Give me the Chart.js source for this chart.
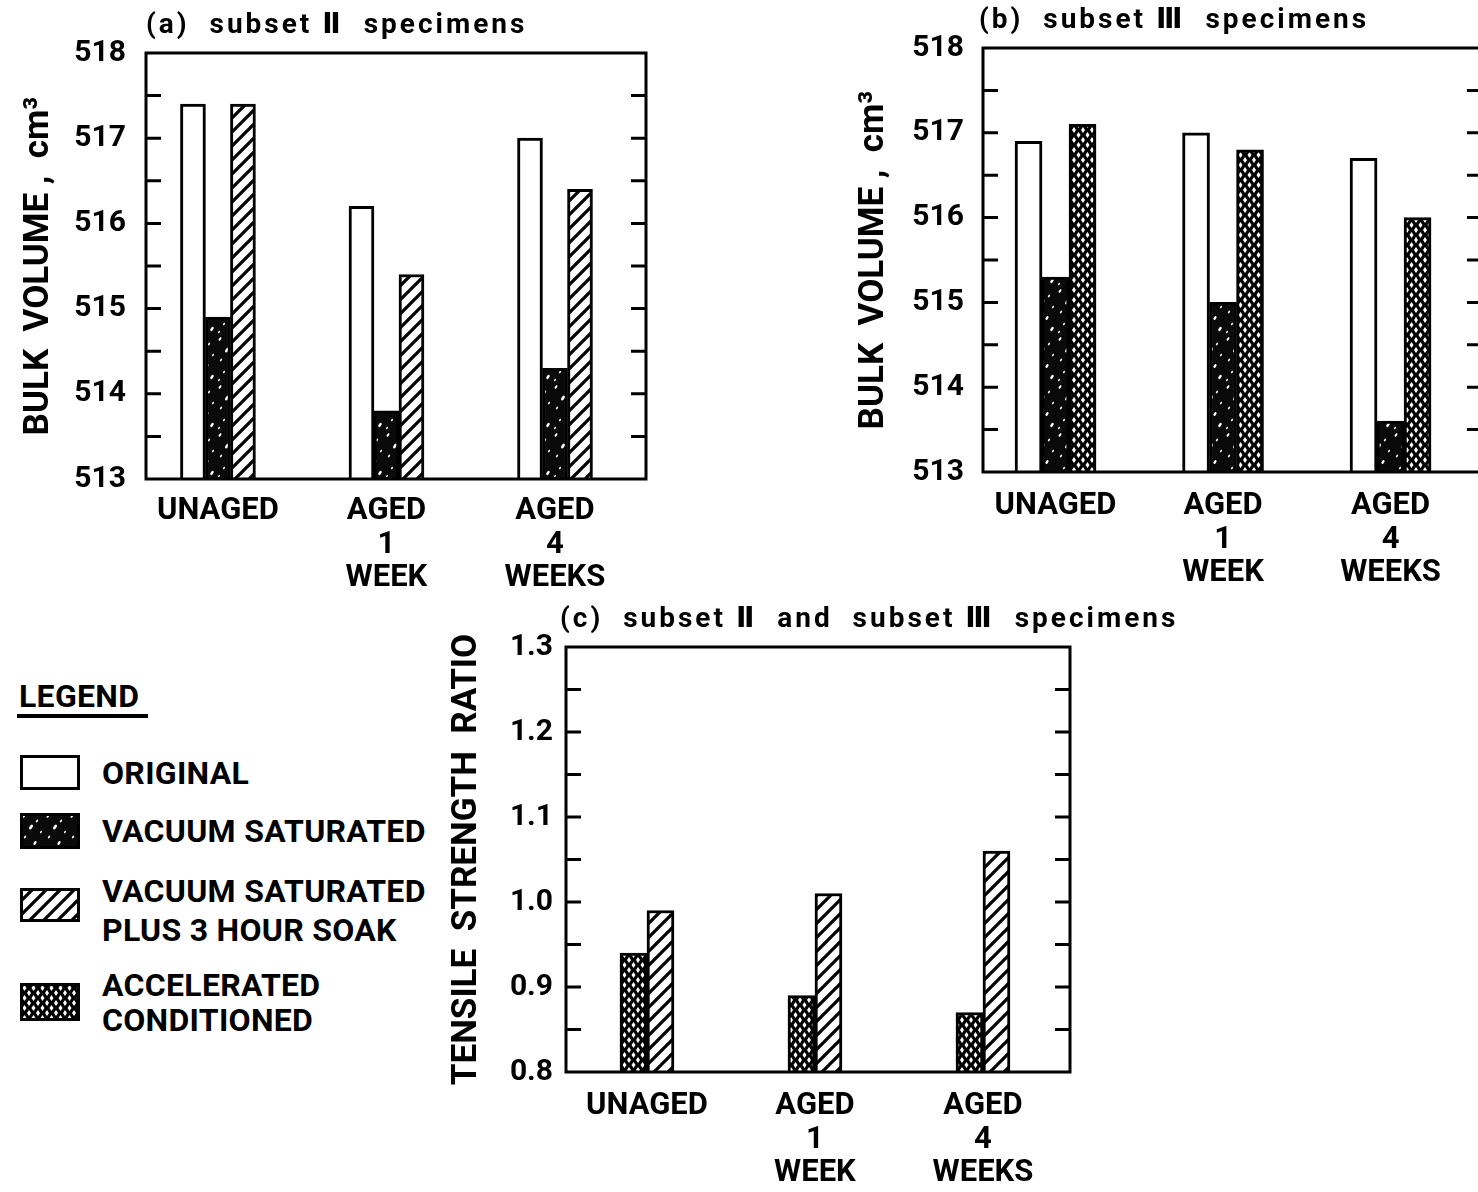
<!DOCTYPE html>
<html>
<head>
<meta charset="utf-8">
<script src="https://cdn.jsdelivr.net/npm/chart.js@4.4.1/dist/chart.umd.min.js"></script>
<style>
  html, body { margin: 0; padding: 0; background: #fff; }
  body { width: 1478px; height: 1192px; overflow: hidden; position: relative; font-family: Roboto, "DejaVu Sans", sans-serif; font-weight: 700; color: #000; }
  canvas.panel, canvas.swatch { position: absolute; }
  .lg { position: absolute; font-size: 32px; line-height: 36px; white-space: nowrap; letter-spacing: 0.3px; }
  .rule { position: absolute; background: #000; }
</style>
</head>
<body>
<canvas id="chartA" class="panel" width="660" height="600" style="left:0;top:0"></canvas>
<canvas id="chartB" class="panel" width="660" height="600" style="left:840px;top:0"></canvas>
<canvas id="chartC" class="panel" width="780" height="592" style="left:440px;top:600px"></canvas>

<!-- legend -->
<div class="lg" style="left:19px;top:678px">LEGEND</div>
<div class="rule" style="left:17px;top:714px;width:131px;height:4px"></div>
<canvas id="swOriginal" class="swatch" width="60" height="35" style="left:20px;top:755px"></canvas>
<div class="lg" style="left:102px;top:755px">ORIGINAL</div>
<canvas id="swVacuum" class="swatch" width="60" height="36" style="left:20px;top:813px"></canvas>
<div class="lg" style="left:102px;top:813px">VACUUM SATURATED</div>
<canvas id="swSoak" class="swatch" width="60" height="34" style="left:20px;top:888px"></canvas>
<div class="lg" style="left:102px;top:872px;line-height:39px">VACUUM SATURATED<br>PLUS 3 HOUR SOAK</div>
<canvas id="swAccel" class="swatch" width="60" height="38" style="left:20px;top:983px"></canvas>
<div class="lg" style="left:102px;top:968px;line-height:35px">ACCELERATED<br>CONDITIONED</div>

<script>
// x categories (same for all three panels)
const categoryLabels = [["UNAGED"], ["AGED", "1", "WEEK"], ["AGED", "4", "WEEKS"]];
const categoryIndex = [0, 1, 2];

// (a) subset II, bulk volume cm3
const aOriginal = [517.4, 516.2, 517.0];
const aVacuumSaturated = [514.9, 513.8, 514.3];
const aSoaked = [517.4, 515.4, 516.4];

// (b) subset III, bulk volume cm3
const bOriginal = [516.9, 517.0, 516.7];
const bVacuumSaturated = [515.3, 515.0, 513.6];
const bAccelerated = [517.1, 516.8, 516.0];

// (c) subset II and III, tensile strength ratio
const cAccelerated = [0.94, 0.89, 0.87];
const cSoaked = [0.99, 1.01, 1.06];

// y tick labels
const volumeTickLabels = [513, 514, 515, 516, 517, 518];
const ratioTickLabels = [0.8, 0.9, 1.0, 1.1, 1.2, 1.3];

const FONT = "Roboto, 'DejaVu Sans', sans-serif";

// ---- fill patterns ----
function tilePattern(w, h, draw) {
  const c = document.createElement("canvas");
  c.width = w;
  c.height = h;
  draw(c.getContext("2d"), w, h);
  return c.getContext("2d").createPattern(c, "repeat");
}

const hatchFill = tilePattern(14, 14, (g, w, h) => {
  g.fillStyle = "#fff";
  g.fillRect(0, 0, w, h);
  g.strokeStyle = "#000";
  g.lineWidth = 3.2;
  g.beginPath();
  g.moveTo(-2, h + 2); g.lineTo(w + 2, -2);
  g.moveTo(-3, 3); g.lineTo(3, -3);
  g.moveTo(w - 3, h + 3); g.lineTo(w + 3, h - 3);
  g.stroke();
});

const crossFill = tilePattern(9, 10, (g, w, h) => {
  g.fillStyle = "#000";
  g.fillRect(0, 0, w, h);
  g.fillStyle = "#fff";
  const diamond = (cx, cy) => {
    g.beginPath();
    g.moveTo(cx, cy - 3); g.lineTo(cx + 2, cy); g.lineTo(cx, cy + 3); g.lineTo(cx - 2, cy);
    g.closePath();
    g.fill();
  };
  diamond(w / 2, h / 2);
  diamond(0, 0); diamond(w, 0); diamond(0, h); diamond(w, h);
});

// white specks on black, fixed positions
const specks = [
  [4, 3, 1.1], [17, 8, 0.9], [11, 14, 1.5], [21, 19, 0.8], [5, 24, 0.9],
  [15, 30, 1.2], [8, 36, 0.8], [20, 41, 1.3], [3, 44, 0.8],
];
const stippleFill = tilePattern(24, 48, (g, w, h) => {
  g.fillStyle = "#0a0a0a";
  g.fillRect(0, 0, w, h);
  g.fillStyle = "#fff";
  specks.forEach(([x, y, r]) => {
    g.beginPath();
    g.ellipse(x, y, r, r * 1.8, 0.6, 0, Math.PI * 2);
    g.fill();
  });
});

const series = {
  original: { label: "ORIGINAL", fill: "#fff" },
  vacuum: { label: "VACUUM SATURATED", fill: stippleFill },
  soak: { label: "VACUUM SATURATED PLUS 3 HOUR SOAK", fill: hatchFill },
  accel: { label: "ACCELERATED CONDITIONED", fill: crossFill },
};

function barSet(kind, values, thickness) {
  return {
    label: series[kind].label,
    data: values.map((v, i) => ({ x: categoryIndex[i], y: v })),
    backgroundColor: series[kind].fill,
    borderColor: "#000",
    borderWidth: 3,
    barThickness: thickness,
  };
}

// frame, inward ticks on both sides and the panel heading
const framePlugin = {
  id: "frame",
  afterDatasetsDraw(chart, args, opts) {
    const { ctx, chartArea: a } = chart;
    const y = chart.scales.y;
    ctx.save();
    ctx.strokeStyle = "#000";
    ctx.lineWidth = 3;
    ctx.strokeRect(a.left, a.top, a.right - a.left, a.bottom - a.top);
    ctx.beginPath();
    y.ticks.forEach((t) => {
      const py = y.getPixelForValue(t.value);
      if (py <= a.top + 3 || py >= a.bottom - 3) return;
      ctx.moveTo(a.left, py);
      ctx.lineTo(a.left + 15, py);
      ctx.moveTo(a.right, py);
      ctx.lineTo(a.right - 15, py);
    });
    ctx.stroke();
    ctx.fillStyle = "#000";
    ctx.font = "bold 28px " + FONT;
    ctx.letterSpacing = "3px";
    ctx.textBaseline = "middle";
    ctx.fillText(opts.title, a.left + opts.dx, a.top - 27);
    ctx.restore();
  },
};

function panel(id, cfg) {
  const labelSet = cfg.tickLabels;
  new Chart(document.getElementById(id), {
    type: "bar",
    data: { datasets: cfg.datasets },
    plugins: [framePlugin],
    options: {
      responsive: false,
      animation: false,
      devicePixelRatio: 1,
      layout: { padding: { top: cfg.padTop, right: cfg.padRight, left: 0, bottom: 0 } },
      plugins: {
        legend: { display: false },
        tooltip: { enabled: false },
        frame: { title: cfg.title, dx: cfg.titleDx },
      },
      scales: {
        x: {
          type: "linear",
          offset: false,
          min: cfg.xMin,
          max: cfg.xMax,
          grid: { display: false },
          border: { display: false },
          afterBuildTicks: (s) => {
            s.ticks = categoryIndex.map((v) => ({ value: v }));
          },
          afterFit: (s) => {
            s.height = cfg.xHeight;
          },
          ticks: {
            autoSkip: false,
            maxRotation: 0,
            padding: cfg.xPad,
            color: "#000",
            font: { family: FONT, size: 31, weight: "bold", lineHeight: 1.07 },
            callback: (v) => categoryLabels[v],
          },
        },
        y: {
          min: labelSet[0],
          max: labelSet[labelSet.length - 1],
          beginAtZero: false,
          grid: { display: false },
          border: { display: false },
          afterFit: (s) => {
            s.width = cfg.yWidth;
          },
          ticks: {
            stepSize: cfg.step,
            padding: cfg.tickPad,
            color: "#000",
            font: { family: FONT, size: 30, weight: "bold" },
            callback: (v) => {
              const hit = labelSet.find((t) => Math.abs(t - v) < 1e-6);
              return hit === undefined ? "" : cfg.fmt(hit);
            },
          },
          title: {
            display: true,
            text: cfg.yTitle,
            color: "#000",
            font: { family: FONT, size: 35, weight: "bold", lineHeight: 1.2 },
            padding: { top: cfg.yTitlePad, bottom: 0 },
          },
        },
      },
    },
  });
}

panel("chartA", {
  datasets: [barSet("original", aOriginal, 25), barSet("vacuum", aVacuumSaturated, 25), barSet("soak", aSoaked, 25)],
  title: "(a)  subset \u2161  specimens",
  titleDx: 0,
  padTop: 53, padRight: 14, yWidth: 146, xHeight: 121, xPad: 8,
  xMin: -0.427, xMax: 2.54,
  tickLabels: volumeTickLabels, step: 0.5, tickPad: 12, fmt: (v) => String(v),
  yTitle: "BULK  VOLUME ,  cm\u00b3", yTitlePad: 18,
});

panel("chartB", {
  datasets: [barSet("original", bOriginal, 27), barSet("vacuum", bVacuumSaturated, 27), barSet("accel", bAccelerated, 27)],
  title: "(b)  subset \u2162  specimens",
  titleDx: -4,
  padTop: 48, padRight: 18, yWidth: 143, xHeight: 128, xPad: 10,
  xMin: -0.433, xMax: 2.546,
  tickLabels: volumeTickLabels, step: 0.5, tickPad: 11, fmt: (v) => String(v),
  yTitle: "BULK  VOLUME ,  cm\u00b3", yTitlePad: 13,
});

panel("chartC", {
  datasets: [barSet("accel", cAccelerated, 27), barSet("soak", cSoaked, 27)],
  title: "(c)  subset \u2161  and  subset \u2162  specimens",
  titleDx: -6,
  padTop: 47, padRight: 150, yWidth: 126, xHeight: 120, xPad: 10,
  xMin: -0.482, xMax: 2.518,
  tickLabels: ratioTickLabels, step: 0.05, tickPad: 5, fmt: (v) => v.toFixed(1),
  yTitle: "TENSILE  STRENGTH  RATIO", yTitlePad: 6,
});

// legend swatches use the same fills as the bars
function swatch(id, fill) {
  const c = document.getElementById(id);
  const g = c.getContext("2d");
  g.fillStyle = fill;
  g.fillRect(0, 0, c.width, c.height);
  g.strokeStyle = "#000";
  g.lineWidth = 3;
  g.strokeRect(1.5, 1.5, c.width - 3, c.height - 3);
}
swatch("swOriginal", series.original.fill);
swatch("swVacuum", series.vacuum.fill);
swatch("swSoak", series.soak.fill);
swatch("swAccel", series.accel.fill);
</script>
</body>
</html>
